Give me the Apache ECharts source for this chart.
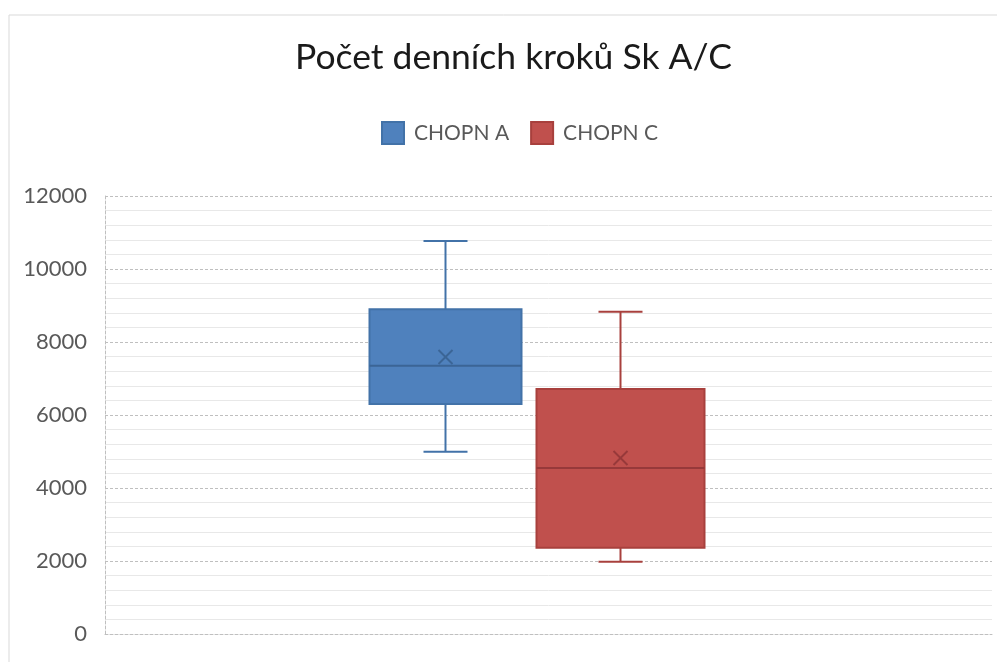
<!DOCTYPE html>
<html>
<head>
<meta charset="utf-8">
<script src="https://cdn.jsdelivr.net/npm/echarts@6/dist/echarts.min.js"></script>
<style>
html, body { margin: 0; padding: 0; background: #fff; }
#chart { width: 997px; height: 662px; }
</style>
</head>
<body>
<div id="chart"></div>
<script>
// data
const seriesNames = ['CHOPN A', 'CHOPN C'];
// [min, Q1, median, Q3, max]
const boxA = [4990, 6300, 7350, 8900, 10770];
const boxC = [1980, 2360, 4550, 6710, 8830];
const meanA = 7590;
const meanC = 4820;

// look of each box (offset from category centre, px)
const boxStyle = [
  { offset: -103, width: 152, fill: '#4f81bd', stroke: '#4272a8', median: '#3b6596' },
  { offset: 72, width: 168, fill: '#c0504d', stroke: '#a8403d', median: '#97393a' }
];

const labelColor = '#595959';
const fontFam = 'Lato, "Noto Sans", sans-serif';

function renderBox (params, api) {
  const s = boxStyle[params.seriesIndex];
  const cx = api.coord([0, 0])[0] + s.offset;
  const y = (i) => api.coord([0, api.value(i)])[1];
  const yMin = y(1), yQ1 = y(2), yMed = y(3), yQ3 = y(4), yMax = y(5), yMean = y(6);
  const hw = s.width / 2;
  const cap = 22;
  const m = 7;
  const ln = (x1, y1, x2, y2, c) => ({
    type: 'line',
    shape: { x1: x1, y1: y1, x2: x2, y2: y2 },
    style: { stroke: c, lineWidth: 2 }
  });
  return {
    type: 'group',
    children: [
      ln(cx, yMax, cx, yQ3, s.stroke),
      ln(cx - cap, yMax, cx + cap, yMax, s.stroke),
      ln(cx, yQ1, cx, yMin, s.stroke),
      ln(cx - cap, yMin, cx + cap, yMin, s.stroke),
      {
        type: 'rect',
        shape: { x: cx - hw, y: yQ3, width: s.width, height: yQ1 - yQ3 },
        style: { fill: s.fill, stroke: s.stroke, lineWidth: 2 }
      },
      ln(cx - hw, yMed, cx + hw, yMed, s.median),
      ln(cx - m, yMean - m, cx + m, yMean + m, s.median),
      ln(cx - m, yMean + m, cx + m, yMean - m, s.median)
    ]
  };
}

const chart = echarts.init(document.getElementById('chart'));
chart.setOption({
  animation: false,
  backgroundColor: '#fff',
  title: {
    text: 'Počet denních kroků Sk A/C',
    left: 290,
    top: 35,
    textStyle: { fontFamily: fontFam, fontSize: 35.5, fontWeight: 'normal', color: '#1a1a1a' }
  },
  legend: {
    left: 376,
    top: 116,
    icon: 'rect',
    itemWidth: 22,
    itemHeight: 22,
    itemGap: 21,
    data: seriesNames,
    textStyle: { fontFamily: fontFam, fontSize: 21, color: labelColor, padding: [0, 0, 0, 5] }
  },
  graphic: [{
    type: 'rect',
    shape: { x: 9, y: 15, width: 1000, height: 700 },
    style: { fill: 'none', stroke: '#d9d9d9', lineWidth: 1 },
    silent: true
  }],
  grid: { left: 105, right: 5, top: 196, bottom: 28 },
  xAxis: {
    type: 'category',
    data: [''],
    axisLine: { show: true, lineStyle: { color: '#bfbfbf', type: [3, 2] } },
    axisTick: { show: false },
    axisLabel: { show: false }
  },
  yAxis: {
    type: 'value',
    min: 0,
    max: 12000,
    interval: 2000,
    axisLine: { show: true, lineStyle: { color: '#bfbfbf', type: [3, 2] } },
    axisTick: { show: false },
    axisLabel: { fontFamily: fontFam, fontSize: 22, color: labelColor, margin: 18, formatter: (v) => String(v) },
    splitLine: { show: true, lineStyle: { color: '#bfbfbf', type: [3, 2] } },
    minorTick: { show: false, splitNumber: 5 },
    minorSplitLine: { show: true, lineStyle: { color: '#e8e8e8' } }
  },
  series: [{
    name: seriesNames[0],
    type: 'custom',
    renderItem: renderBox,
    itemStyle: { color: boxStyle[0].fill, borderColor: boxStyle[0].stroke, borderWidth: 1 },
    encode: { x: 0, y: [1, 2, 3, 4, 5, 6] },
    data: [[0].concat(boxA, [meanA])]
  }, {
    name: seriesNames[1],
    type: 'custom',
    renderItem: renderBox,
    itemStyle: { color: boxStyle[1].fill, borderColor: boxStyle[1].stroke, borderWidth: 1 },
    encode: { x: 0, y: [1, 2, 3, 4, 5, 6] },
    data: [[0].concat(boxC, [meanC])]
  }]
});
</script>
</body>
</html>
